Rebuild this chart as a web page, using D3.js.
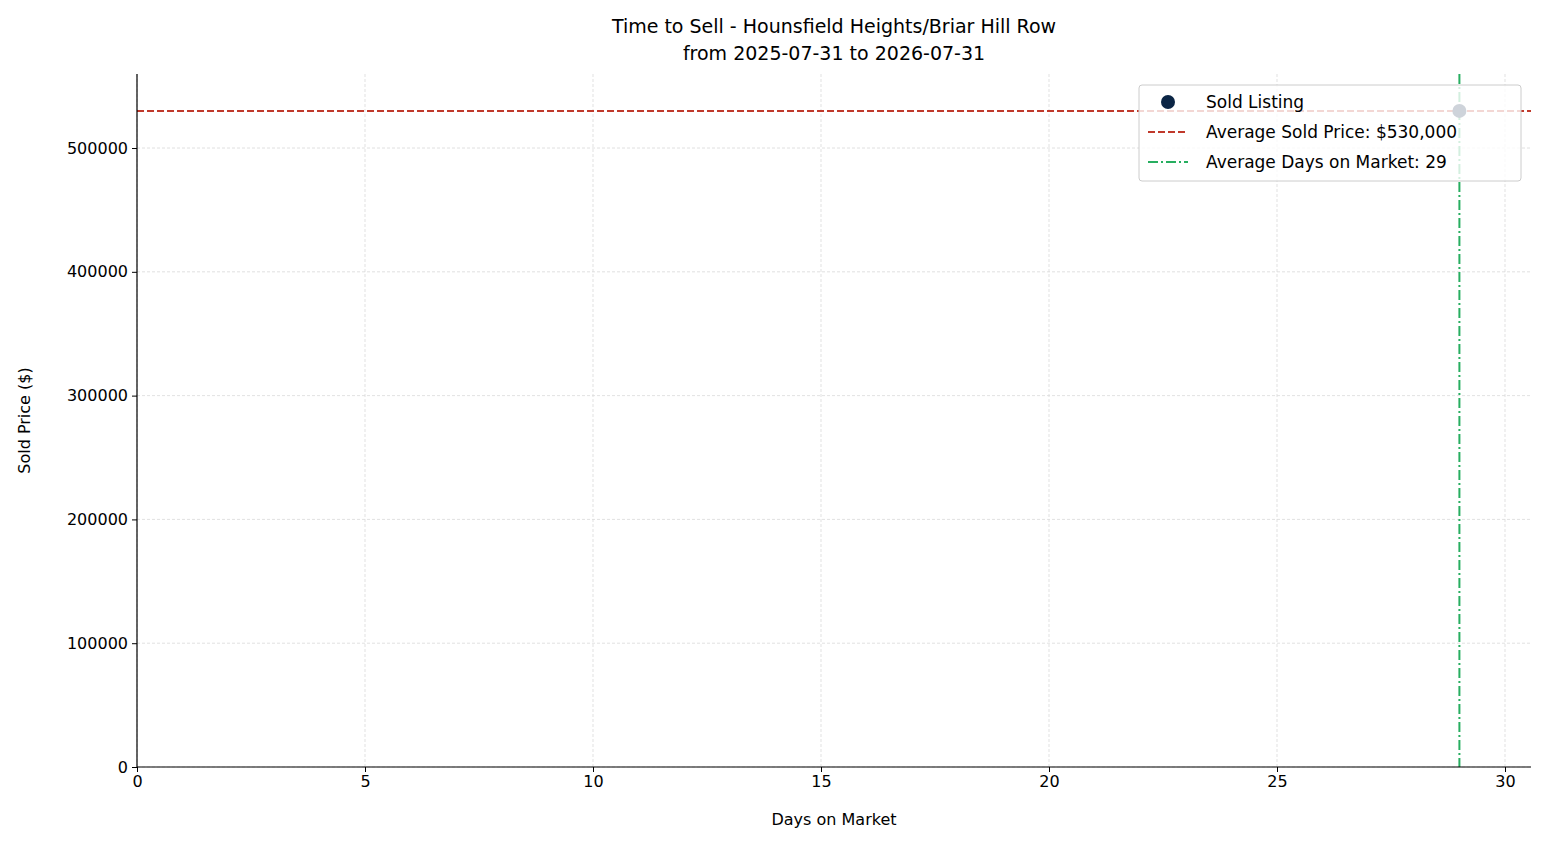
<!DOCTYPE html>
<html><head><meta charset="utf-8">
<script src="https://cdn.jsdelivr.net/npm/d3@7"></script>
<style>body{margin:0;background:#fff}text{font-family:"DejaVu Sans",sans-serif}</style>
</head><body><svg id="c" width="1547" height="845"></svg>
<script>
const daysOnMarket=[29];
const soldPrices=[530000];
const avgPrice=530000;
const avgDays=29;
const xTicks=[0,5,10,15,20,25,30];
const yTicks=[0,100000,200000,300000,400000,500000];
const titleLines=["Time to Sell - Hounsfield Heights/Briar Hill Row","from 2025-07-31 to 2026-07-31"];
const legendLabels=["Sold Listing","Average Sold Price: $530,000","Average Days on Market: 29"];

const svg=d3.select("#c");
const L=137,R=1531,T=74,B=767;
const x=d3.scaleLinear().domain([0,30.57]).range([L,R]);
const y=d3.scaleLinear().domain([0,559800]).range([B,T]);
const g=svg.append("g");
// grid
g.selectAll(".gx").data(xTicks).join("line").attr("x1",d=>x(d)).attr("x2",d=>x(d)).attr("y1",T).attr("y2",B)
 .attr("stroke","#d9d9d9").attr("stroke-width",0.8).attr("stroke-dasharray","3,2");
g.selectAll(".gy").data(yTicks).join("line").attr("y1",d=>y(d)).attr("y2",d=>y(d)).attr("x1",L).attr("x2",R)
 .attr("stroke","#d9d9d9").attr("stroke-width",0.8).attr("stroke-dasharray","3,2");
// avg lines
g.append("line").attr("x1",L).attr("x2",R).attr("y1",y(avgPrice)).attr("y2",y(avgPrice))
 .attr("stroke","#c0392b").attr("stroke-width",2).attr("stroke-dasharray","7,3");
g.append("line").attr("x1",x(avgDays)).attr("x2",x(avgDays)).attr("y1",T).attr("y2",B)
 .attr("stroke","#27ae60").attr("stroke-width",2).attr("stroke-dasharray","10,3,2,3");
// points
g.selectAll(".pt").data(daysOnMarket).join("circle").attr("cx",d=>x(d)).attr("cy",(d,i)=>y(soldPrices[i]))
 .attr("r",7).attr("fill","#0b2545");
// axes
const xa=svg.append("g").attr("transform",`translate(0,${B})`).call(d3.axisBottom(x).tickValues(xTicks).tickSize(5).tickPadding(4));
const ya=svg.append("g").attr("transform",`translate(${L},0)`).call(d3.axisLeft(y).tickValues(yTicks).tickFormat(d3.format("d")).tickSize(5).tickPadding(4));
[xa,ya].forEach(a=>{a.selectAll("text").attr("font-size",16).attr("fill","#000").style("font-family","DejaVu Sans");a.select(".domain").attr("stroke","#000").attr("stroke-width",1.2);a.selectAll(".tick line").attr("stroke","#000");});
xa.select(".domain").attr("d",`M${L},0H${R}`);
ya.select(".domain").attr("d",`M0,${B}V${T}`);
// labels
svg.append("text").attr("x",(L+R)/2).attr("y",825).attr("text-anchor","middle").attr("font-size",16).text("Days on Market");
svg.append("text").attr("transform",`translate(30,${(T+B)/2}) rotate(-90)`).attr("text-anchor","middle").attr("font-size",16).text("Sold Price ($)");
titleLines.forEach((t,i)=>svg.append("text").attr("x",(L+R)/2).attr("y",33+i*27).attr("text-anchor","middle").attr("font-size",19).text(t));
// legend
const lg=svg.append("g");
lg.append("rect").attr("x",1139).attr("y",85).attr("width",382).attr("height",96).attr("rx",3)
 .attr("fill","rgba(255,255,255,0.8)").attr("stroke","#ccc");
const ly=[102,132,162];
lg.append("circle").attr("cx",1168).attr("cy",ly[0]).attr("r",7).attr("fill","#0b2545");
lg.append("line").attr("x1",1148).attr("x2",1188).attr("y1",ly[1]).attr("y2",ly[1]).attr("stroke","#c0392b").attr("stroke-width",2).attr("stroke-dasharray","7,3");
lg.append("line").attr("x1",1148).attr("x2",1188).attr("y1",ly[2]).attr("y2",ly[2]).attr("stroke","#27ae60").attr("stroke-width",2).attr("stroke-dasharray","10,3,2,3");
legendLabels.forEach((t,i)=>lg.append("text").attr("x",1206).attr("y",ly[i]+6).attr("font-size",17).text(t));
</script></body></html>
